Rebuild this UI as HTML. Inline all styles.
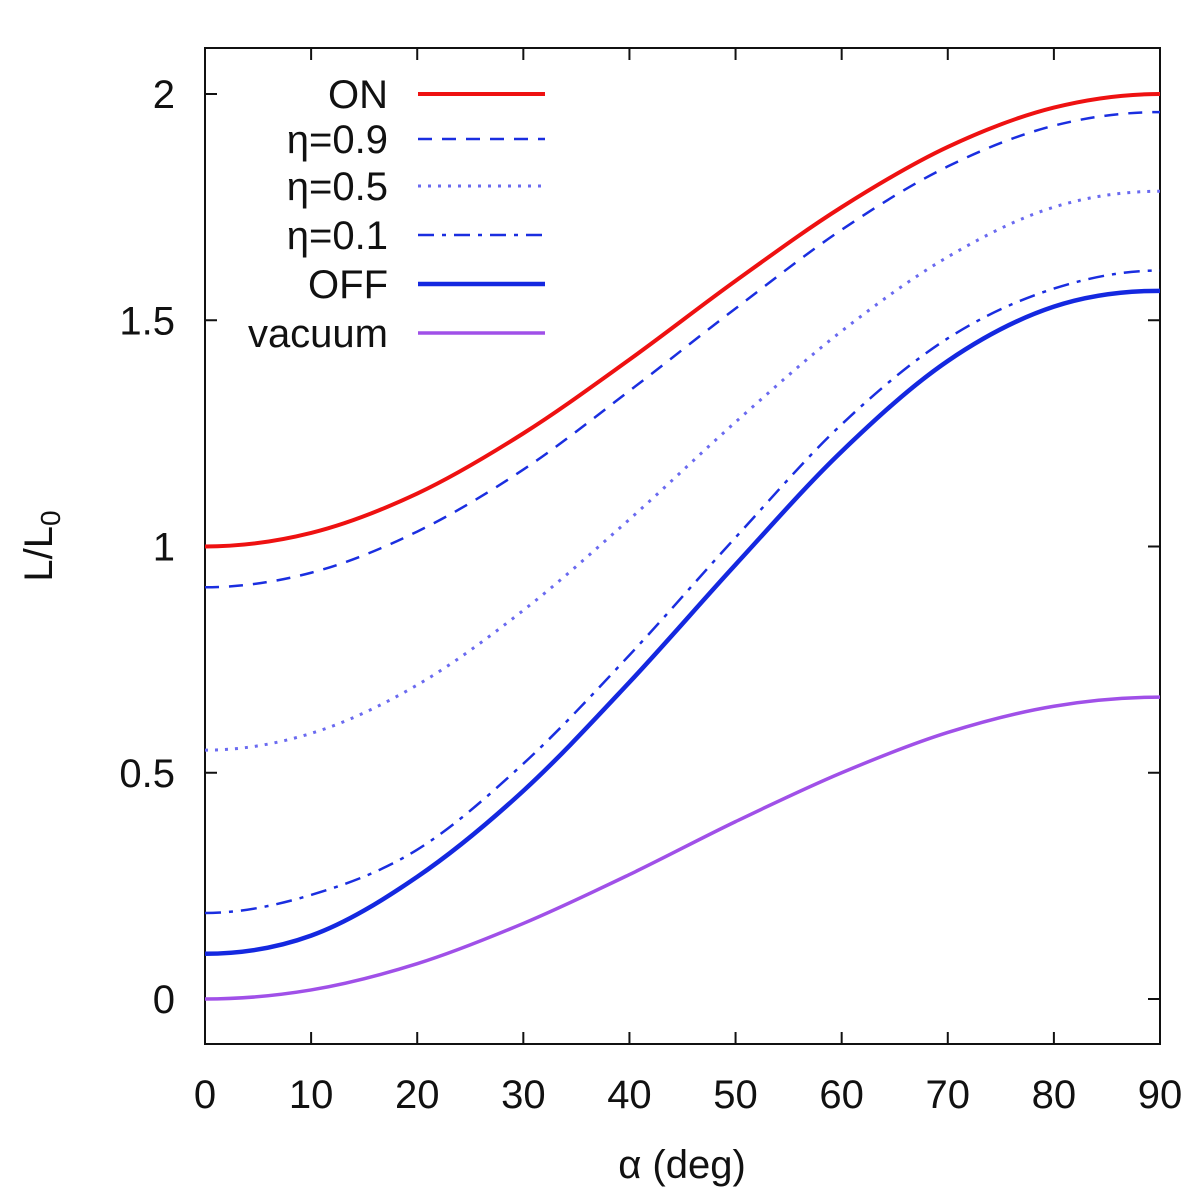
<!DOCTYPE html>
<html><head><meta charset="utf-8"><style>
html,body{margin:0;padding:0;background:#fff}
svg{display:block}
text{font-family:"Liberation Sans",sans-serif;fill:#111}
</style></head><body>
<svg id="chart" width="1200" height="1200">
<rect x="205" y="48" width="955" height="996" fill="none" stroke="#111" stroke-width="2"/>
<g id="axes"></g><g id="series"></g><g id="legend"></g>
<text x="682" y="1178" font-size="40" text-anchor="middle">α (deg)</text>
<text transform="translate(52,546) rotate(-90)" font-size="40" text-anchor="middle">L/L<tspan font-size="28" dy="8">0</tspan></text>
</svg>
<script>
const alphas=[0,10,20,30,40,50,60,70,80,90];
const onVals=[1.00,1.03,1.117,1.25,1.413,1.587,1.75,1.883,1.97,2.0];
const eta09Vals=[0.91,0.942,1.033,1.17,1.344,1.526,1.70,1.84,1.93,1.96];
const eta05Vals=[0.55,0.587,0.694,0.859,1.06,1.275,1.476,1.64,1.75,1.785];
const eta01Vals=[0.19,0.23,0.33,0.52,0.76,1.02,1.27,1.46,1.57,1.61];
const offVals=[0.10,0.14,0.27,0.46,0.70,0.96,1.21,1.41,1.53,1.565];
const vacuumVals=[0,0.02,0.078,0.167,0.275,0.392,0.5,0.589,0.647,0.667];
const xTicks=[0,10,20,30,40,50,60,70,80,90];
const yTicks=[0,0.5,1,1.5,2];
const yTickLabels=["0","0.5","1","1.5","2"];
const legendLabels=["ON","η=0.9","η=0.5","η=0.1","OFF","vacuum"];

const NS="http://www.w3.org/2000/svg";
const X=v=>205+v*(955/90);
const Y=v=>999-v*452.5;
function mk(tag,attrs,parent){const e=document.createElementNS(NS,tag);for(const k in attrs)e.setAttribute(k,attrs[k]);parent.appendChild(e);return e;}
const axes=document.getElementById('axes');
xTicks.forEach((t,i)=>{
  const x=X(t);
  const a=mk('line',{x1:x,y1:1044,x2:x,y2:1032,stroke:'#111','stroke-width':2},axes);
  
  
  const b=mk('line',{x1:x,y1:48,x2:x,y2:60,stroke:'#111','stroke-width':2},axes);
  
  
  const tx=mk('text',{x:x,y:1108,'font-size':40,'text-anchor':'middle'},axes);
  tx.textContent=String(t);
  
  
});
yTicks.forEach((t,i)=>{
  const y=Y(t);
  const a=mk('line',{x1:205,y1:y,x2:217,y2:y,stroke:'#111','stroke-width':2},axes);
  
  
  const b=mk('line',{x1:1160,y1:y,x2:1148,y2:y,stroke:'#111','stroke-width':2},axes);
  
  
  const tx=mk('text',{x:175,y:y+14,'font-size':40,'text-anchor':'end'},axes);
  tx.textContent=yTickLabels[i];
  
  
});
function path(vals){
  const p=alphas.map((a,i)=>[X(a),Y(vals[i])]);
  const n=p.length;
  const first=[2*p[0][0]-p[1][0],p[1][1]];
  const last=[2*p[n-1][0]-p[n-2][0],p[n-2][1]];
  const q=[first].concat(p,[last]);
  let d='M'+p[0][0]+','+p[0][1];
  for(let i=1;i<q.length-2;i++){
    const p0=q[i-1],p1=q[i],p2=q[i+1],p3=q[i+2];
    const c1=[p1[0]+(p2[0]-p0[0])/6,p1[1]+(p2[1]-p0[1])/6];
    const c2=[p2[0]-(p3[0]-p1[0])/6,p2[1]-(p3[1]-p1[1])/6];
    d+=' C'+c1+' '+c2+' '+p2;
  }
  return d;
}
const styles=[
 {vals:onVals,stroke:'#ee1111',w:4,dash:'',name:'series-on'},
 {vals:eta09Vals,stroke:'#1a2ee0',w:2.5,dash:'14,10',name:'series-eta-0-9'},
 {vals:eta05Vals,stroke:'#6a6af0',w:3,dash:'3,7',name:'series-eta-0-5'},
 {vals:eta01Vals,stroke:'#1a2ee0',w:2.5,dash:'16,8,4,8',name:'series-eta-0-1'},
 {vals:offVals,stroke:'#1428e0',w:4.5,dash:'',name:'series-off'},
 {vals:vacuumVals,stroke:'#a050e8',w:3.5,dash:'',name:'series-vacuum'}];
const series=document.getElementById('series'),legend=document.getElementById('legend');
const rowY=[94,139,186,235,284,333];
styles.forEach((s,i)=>{
  const el=mk('path',{d:path(s.vals),fill:'none',stroke:s.stroke,'stroke-width':s.w,'stroke-dasharray':s.dash},series);
  
  
  const ln=mk('line',{x1:418,y1:rowY[i],x2:545,y2:rowY[i],stroke:s.stroke,'stroke-width':s.w,'stroke-dasharray':s.dash},legend);
  
  
  const tx=mk('text',{x:388,y:rowY[i]+14,'font-size':40,'text-anchor':'end'},legend);
  tx.textContent=legendLabels[i];
  
  
});
</script>
</body></html>
